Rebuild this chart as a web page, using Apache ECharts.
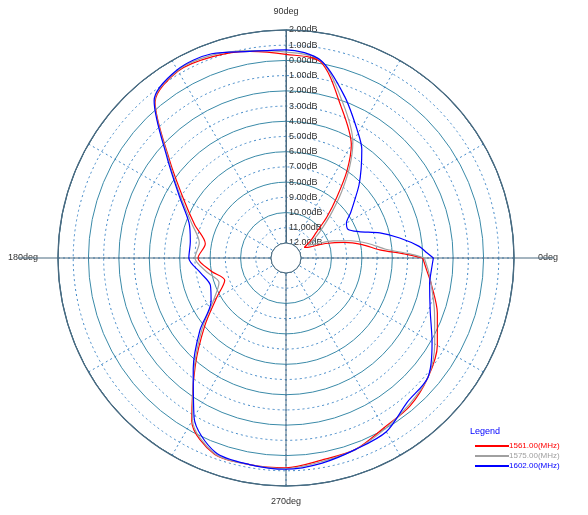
<!DOCTYPE html>
<html><head><meta charset="utf-8">
<script src="https://cdn.jsdelivr.net/npm/echarts@6/dist/echarts.min.js"></script>
<style>html,body{margin:0;background:#fff}#c{width:588px;height:515px}</style>
</head><body><div id="c"></div>
<script>
// angles in degrees (0 = right, counter-clockwise), gain in dB
var angles = [0,2,5,10,15,20,25,30,35,40,45,50,55,60,70,80,90,100,110,120,130,140,150,160,170,180,190,200,210,220,230,240,250,260,270,280,290,300,310,320,330,340,350,355,360];
var red  = [-4.0,-5.2,-6.8,-7.9,-9.0,-10.2,-11.3,-11.6,-11.0,-10.4,-9.2,-7.8,-6.0,-4.4,-2.4,0.1,0.4,0.8,1.1,1.2,0.4,-3.0,-5.2,-6.6,-7.6,-7.2,-8.0,-8.7,-7.7,-6.0,-3.7,-0.6,0.75,0.8,0.8,0.5,0.4,-0.1,-0.3,-0.8,-1.5,-2.4,-3.3,-3.7,-4.0];
var gray = [-3.9,-4.9,-6.4,-7.5,-8.6,-9.7,-10.8,-11.3,-10.6,-9.8,-8.7,-7.3,-5.7,-4.2,-2.1,0.2,0.55,0.85,1.2,1.25,0.45,-2.9,-5.0,-6.4,-7.2,-7.0,-7.7,-8.3,-7.5,-5.8,-3.6,-0.7,0.7,0.8,0.85,0.6,0.4,0.0,-0.4,-0.8,-1.7,-2.6,-3.3,-3.6,-3.9];
var blue = [-3.3,-3.7,-4.2,-5.4,-6.6,-7.9,-8.5,-8.4,-7.8,-7.1,-6.2,-5.3,-4.3,-3.5,-1.7,0.2,0.7,0.8,1.3,1.3,0.5,-2.8,-4.9,-6.2,-6.6,-6.6,-7.3,-7.7,-7.3,-5.6,-3.5,-0.9,0.6,0.8,0.9,0.7,0.4,0.2,-0.6,-0.8,-1.9,-2.9,-3.4,-3.4,-3.3];
var names = ['1561.00(MHz)','1575.00(MHz)','1602.00(MHz)'];
var colors = ['#ff0000','#a0a0a0','#0000ff'];

function pts(vals){
  return vals.map(function(v,i){ return [v, ((angles[i]-90)%360+360)%360]; });
}
var chart = echarts.init(document.getElementById('c'));
var cx = 286, cy = 258, R = 228;
var lf = '9px Liberation Sans';
chart.setOption({
  animation:false,
  polar:{center:[cx,cy],radius:[15,R]},
  angleAxis:{
    type:'value',min:0,max:360,interval:30,startAngle:90,clockwise:false,
    axisLine:{lineStyle:{color:'#4a6a80',width:1}},
    axisTick:{show:false},
    axisLabel:{show:false},
    splitLine:{lineStyle:{color:'#3f86c6',type:[2,3],width:1}}
  },
  radiusAxis:{
    type:'value',min:-12,max:2,interval:2,
    axisLine:{lineStyle:{color:'#4a6a80'}},
    axisTick:{show:false},
    axisLabel:{color:'#333',fontSize:9,fontFamily:'Liberation Sans',align:'left',margin:-3,
      showMaxLabel:true,formatter:function(v){return Math.abs(v).toFixed(2)+'dB';},
      customValues:[2,1,0,-1,-2,-3,-4,-5,-6,-7,-8,-9,-10,-11,-12]},
    splitLine:{lineStyle:{color:'#3a8aa8',width:1}},
    minorTick:{show:false,splitNumber:2},
    minorSplitLine:{show:true,lineStyle:{color:'#3f86c6',type:[2,3]}}
  },
  legend:{
    orient:'vertical',left:470,top:437,itemWidth:34,itemHeight:2,itemGap:2,
    icon:'rect',data:names,
    textStyle:{fontSize:8,fontFamily:'Liberation Sans',padding:[0,0,0,-5]}
  },
  graphic:[
    {type:'line',shape:{x1:cx-R-40,y1:cy,x2:cx+R+40,y2:cy},style:{stroke:'#4a6a80',lineWidth:1},z:1},
    {type:'line',shape:{x1:cx,y1:cy-R,x2:cx,y2:cy+R},style:{stroke:'#4a6a80',lineWidth:1},z:1},
    {type:'circle',shape:{cx:cx,cy:cy,r:15},style:{fill:'#fff',stroke:'#4a6a80',lineWidth:1},z:10},
    {type:'circle',shape:{cx:cx,cy:cy,r:R},style:{fill:'none',stroke:'#4a6a80',lineWidth:1.2},z:1},
    {type:'text',x:cx,y:7,style:{text:'90deg',fill:'#333',font:lf,align:'center'}},
    {type:'text',x:cx,y:497,style:{text:'270deg',fill:'#333',font:lf,align:'center'}},
    {type:'text',x:538,y:cy-5,style:{text:'0deg',fill:'#333',font:lf}},
    {type:'text',x:8,y:cy-5,style:{text:'180deg',fill:'#333',font:lf}},
    {type:'text',left:470,top:427,style:{text:'Legend',fill:'#0000ff',font:lf}}
  ],
  series:[red,gray,blue].map(function(d,i){
    return {type:'line',name:names[i],coordinateSystem:'polar',data:pts(d),smooth:0.3,
      showSymbol:false,lineStyle:{color:colors[i],width:1.2},itemStyle:{color:colors[i]},
      legendHoverLink:false, z:3+i};
  })
});
chart.setOption({legend:{data:names.map(function(n,i){return {name:n,textStyle:{color:colors[i]}};})}});
</script></body></html>
